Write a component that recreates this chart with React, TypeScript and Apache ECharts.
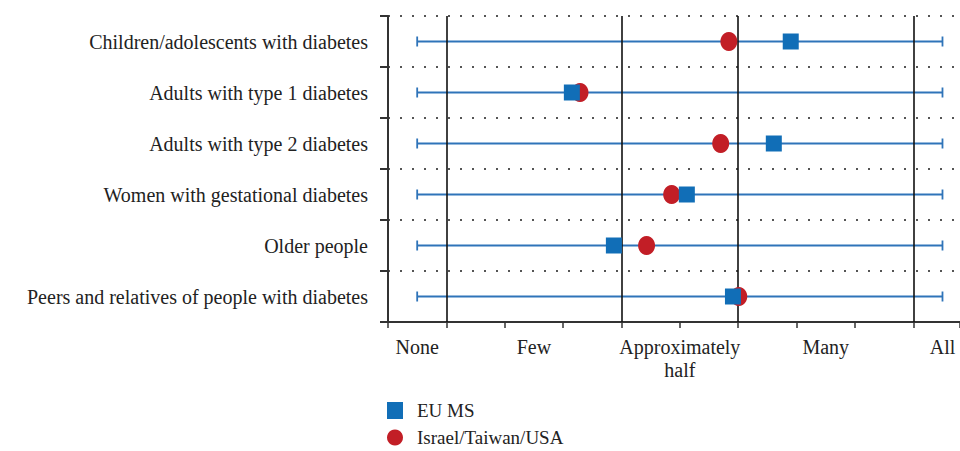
import React, { useEffect, useRef } from "react";
import * as echarts from "echarts";

const categories = [
  "Children/adolescents with diabetes",
  "Adults with type 1 diabetes",
  "Adults with type 2 diabetes",
  "Women with gestational diabetes",
  "Older people",
  "Peers and relatives of people with diabetes",
];
const euMs = [6.9, 3.15, 6.61, 5.12, 3.87, 5.91];
const israelTaiwanUsa = [5.84, 3.29, 5.7, 4.86, 4.43, 6.01];
const rangeLow = [0.5, 0.5, 0.5, 0.5, 0.5, 0.5];
const rangeHigh = [9.5, 9.5, 9.5, 9.5, 9.5, 9.5];
const xLabelValues = [0.5, 2.5, 5, 7.5, 9.5];
const xLabelTexts = ["None", "Few", "Approximately\nhalf", "Many", "All"];
const dividerValues = [1, 4, 6, 9];

const FONT = "Liberation Serif";

export default function App() {
  const ref = useRef<HTMLDivElement>(null);
  useEffect(() => {
    if (!ref.current) return;
    const chart = echarts.init(ref.current, null, { renderer: "svg" });
    const barColor = "#2f74b9";
    const legendBase = {
      orient: "vertical",
      left: 387,
      padding: 0,
      itemWidth: 16,
      itemHeight: 17,
      textStyle: { fontFamily: FONT, fontSize: 19, color: "#222", padding: [0, 0, 0, 9] },
    };
    chart.setOption({
      animation: false,
      grid: { left: 388, top: 16, right: 0, bottom: 129, containLabel: false },
      legend: [
        { ...legendBase, top: 401, data: ["EU MS"] },
        { ...legendBase, top: 428, data: ["Israel/Taiwan/USA"] },
      ],
      xAxis: [
        {
          type: "value",
          min: 0,
          max: 9.8,
          interval: 1,
          axisLine: { show: true, lineStyle: { color: "#333", width: 2 } },
          axisTick: { show: true, length: 6, lineStyle: { color: "#333", width: 1.5 } },
          axisLabel: { show: false },
          splitLine: { show: false },
        },
        {
          type: "value",
          min: 0,
          max: 9.8,
          interval: 0.5,
          position: "bottom",
          axisLine: { show: false },
          axisTick: { show: false },
          splitLine: { show: false },
          axisLabel: {
            show: true,
            margin: 13,
            showMaxLabel: false,
            fontFamily: FONT,
            fontSize: 20,
            color: "#222",
            lineHeight: 23,
            verticalAlign: "top",
            formatter: (v: number) => {
              const i = xLabelValues.findIndex((x) => Math.abs(x - v) < 1e-6);
              return i >= 0 ? xLabelTexts[i] : "";
            },
          },
        },
      ],
      yAxis: {
        type: "category",
        data: categories,
        inverse: true,
        axisLine: { show: true, lineStyle: { color: "#333", width: 2 } },
        axisTick: { show: true, length: 8, lineStyle: { color: "#333", width: 2 } },
        axisLabel: { fontFamily: FONT, fontSize: 20, color: "#222", margin: 20 },
        splitLine: {
          show: true,
          lineStyle: { color: "#555", width: 2, type: [2, 10] },
        },
      },
      series: [
        {
          type: "custom",
          name: "range",
          z: 1,
          xAxisIndex: 0,
          yAxisIndex: 0,
          data: categories.map((c, i) => [rangeLow[i], rangeHigh[i], c]),
          encode: { x: [0, 1], y: 2 },
          renderItem: (params: any, api: any) => {
            const p1 = api.coord([api.value(0), api.value(2)]);
            const p2 = api.coord([api.value(1), api.value(2)]);
            const h = 5;
            const style = { stroke: barColor, lineWidth: 1.8 };
            return {
              type: "group",
              children: [
                { type: "line", shape: { x1: p1[0], y1: p1[1], x2: p2[0], y2: p2[1] }, style },
                { type: "line", shape: { x1: p1[0], y1: p1[1] - h, x2: p1[0], y2: p1[1] + h }, style },
                { type: "line", shape: { x1: p2[0], y1: p2[1] - h, x2: p2[0], y2: p2[1] + h }, style },
              ],
            };
          },
        },
        {
          type: "scatter",
          name: "Israel/Taiwan/USA",
          z: 3,
          xAxisIndex: 0,
          yAxisIndex: 0,
          symbol: "circle",
          symbolSize: [17, 19],
          itemStyle: { color: "#c21e26", opacity: 1 },
          data: israelTaiwanUsa.map((v, i) => [v, categories[i]]),
          markLine: {
            silent: true,
            z: 2,
            symbol: "none",
            label: { show: false },
            lineStyle: { color: "#111", width: 1.6, type: "solid" },
            data: dividerValues.map((v) => ({ xAxis: v })),
          },
        },
        {
          type: "scatter",
          name: "EU MS",
          z: 4,
          xAxisIndex: 0,
          yAxisIndex: 0,
          symbol: "rect",
          symbolSize: 16,
          itemStyle: { color: "#116eb7", opacity: 1 },
          data: euMs.map((v, i) => [v, categories[i]]),
        },
      ],
    });
    return () => chart.dispose();
  }, []);
  return (
    <div
      ref={ref}
      style={{ position: "absolute", left: 0, top: 0, width: 960, height: 451 }}
    />
  );
}
